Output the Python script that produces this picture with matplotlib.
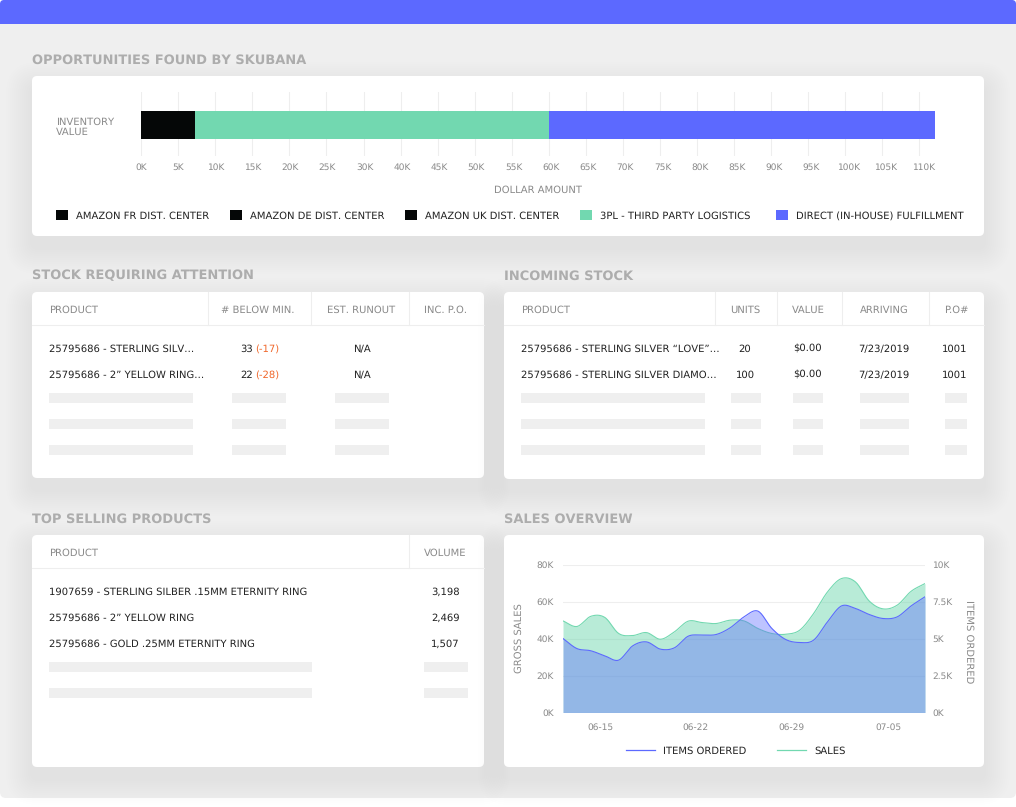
import numpy as np
import matplotlib
matplotlib.use('Agg')
import matplotlib.pyplot as plt
from matplotlib.patches import FancyBboxPatch, Rectangle
from matplotlib.transforms import ScaledTranslation

# inventory bar (dollars in K)
bar_names = ['AMAZON FR DIST. CENTER', 'AMAZON DE DIST. CENTER', 'AMAZON UK DIST. CENTER',
             '3PL - THIRD PARTY LOGISTICS', 'DIRECT (IN-HOUSE) FULFILLMENT']
bar_values = [2.4, 2.4, 2.5, 52.8, 52.0]
bar_colors = ['#050707', '#050707', '#050707', '#72d8b0', '#5c69ff']
# the axis in the original really skips 35K
tick_values = [0, 5, 10, 15, 20, 25, 30, 40, 45, 50, 55, 60, 65, 70, 75, 80, 85, 90, 95, 100, 105, 110]

# sales overview
sales = [49.5, 46.5, 52.0, 51.4, 42.7, 41.6, 43.2, 39.6, 43.6, 49.4, 48.6, 48.1, 49.9, 49.5,
         45.4, 42.7, 42.3, 44.5, 53.5, 65.2, 72.4, 70.6, 60.2, 56.0, 58.0, 65.5, 69.7]
items = [5.0, 4.32, 4.17, 3.83, 3.54, 4.5, 4.77, 4.28, 4.37, 5.16, 5.23, 5.27, 5.72, 6.46,
         6.85, 5.68, 4.93, 4.73, 4.89, 6.13, 7.2, 7.03, 6.62, 6.35, 6.46, 7.2, 7.82]
date_ticks = [2.66, 9.53, 16.4, 23.4]
date_labels = ['06-15', '06-22', '06-29', '07-05']

# tables
stock_headers = ['PRODUCT', '# BELOW MIN.', 'EST. RUNOUT', 'INC. P.O.']
stock_products = ['25795686 - STERLING SILV…', '25795686 - 2” YELLOW RING…']
stock_below = ['33', '22']
stock_diff = ['(-17)', '(-28)']
stock_runout = ['N/A', 'N/A']

incoming_headers = ['PRODUCT', 'UNITS', 'VALUE', 'ARRIVING', 'P.O#']
incoming_products = ['25795686 - STERLING SILVER “LOVE”…', '25795686 - STERLING SILVER DIAMO…']
incoming_units = ['20', '100']
incoming_value = ['$0.00', '$0.00']
incoming_arriving = ['7/23/2019', '7/23/2019']
incoming_po = ['1001', '1001']

top_headers = ['PRODUCT', 'VOLUME']
top_products = ['1907659 - STERLING SILBER .15MM ETERNITY RING', '25795686 - 2” YELLOW RING',
                '25795686 - GOLD .25MM ETERNITY RING']
top_volume = ['3,198', '2,469', '1,507']

W, H = 1016, 807
GREY = '#8a8a8a'
DARK = '#222222'
LINE = '#eeeeee'
PLACEHOLDER = '#efefef'
GREEN = '#72d8b0'
BLUE = '#5c69ff'
BODY = 6.95
plt.rcParams['font.family'] = ['DejaVu Sans']
plt.rcParams['text.hinting'] = 'none'
plt.rcParams['text.hinting_factor'] = 1

fig = plt.figure(figsize=(W / 100, H / 100), dpi=100, facecolor='white')
page = fig.add_axes([0, 0, 1, 1])
page.set_xlim(0, W)
page.set_ylim(H, 0)
page.axis('off')


def axes_px(left, top, right, bottom):
    ax = fig.add_axes([left / W, 1 - bottom / H, (right - left) / W, (bottom - top) / H])
    ax.patch.set_alpha(0)
    return ax


def rounded(x0, y0, x1, y1, r, **kw):
    page.add_patch(FancyBboxPatch((x0, y0), x1 - x0, y1 - y0,
                                  boxstyle='round,pad=0,rounding_size=%g' % r, linewidth=0, **kw))


def card(x0, y0, x1, y1):
    # soft shadow
    for grow in range(26, 0, -2):
        rounded(x0 - grow, y0 - grow + 12, x1 + grow, y1 + grow + 12, 6 + grow,
                facecolor='black', alpha=0.003)
    rounded(x0, y0, x1, y1, 5, facecolor='white')


def title(x, y, s):
    page.text(x, y + 4.6, s, color='#adadad', fontsize=9.0, fontweight='bold', va='baseline')


def label(x, y, s, color=DARK, size=BODY, ha='left'):
    page.text(x, y + 3.9, s, color=color, fontsize=size, ha=ha, va='baseline')


def header_row(x0, x1, top, line_y, dividers, xs, names, aligns):
    page.plot([x0, x1], [line_y, line_y], color=LINE, lw=0.8)
    for d in dividers:
        page.plot([d, d], [top, line_y], color=LINE, lw=0.8)
    for x, name, ha in zip(xs, names, aligns):
        label(x, top + 17, name, color=GREY, ha=ha)


def placeholders(rows, spans):
    for y in rows:
        for a, b in spans:
            page.add_patch(Rectangle((a, y), b - a, 10, facecolor=PLACEHOLDER, linewidth=0))


def smooth(y, n=16):
    # catmull-rom through the read values
    y = np.asarray(y, dtype=float)
    p = np.concatenate([[2 * y[0] - y[1]], y, [2 * y[-1] - y[-2]]])
    xs, ys = [], []
    for i in range(1, len(p) - 2):
        t = np.linspace(0, 1, n, endpoint=False)
        ys.append(0.5 * (2 * p[i] + (p[i + 1] - p[i - 1]) * t
                         + (2 * p[i - 1] - 5 * p[i] + 4 * p[i + 1] - p[i + 2]) * t ** 2
                         + (3 * p[i] - p[i - 1] - 3 * p[i + 1] + p[i + 2]) * t ** 3))
        xs.append(i - 1 + t)
    return np.append(np.concatenate(xs), len(y) - 1), np.append(np.concatenate(ys), y[-1])


# page background
rounded(0, 0, W, 798, 6, facecolor='#efefef')
rounded(0, 0, W, 24, 4, facecolor=BLUE)
page.add_patch(Rectangle((0, 8), W, 16, facecolor=BLUE, linewidth=0))

title(32, 59, 'OPPORTUNITIES FOUND BY SKUBANA')
title(32, 275, 'STOCK REQUIRING ATTENTION')
title(504, 275, 'INCOMING STOCK')
title(32, 518, 'TOP SELLING PRODUCTS')
title(504, 518, 'SALES OVERVIEW')

card(32, 76, 984, 236)
card(32, 292, 484, 478)
card(504, 292, 984, 479)
card(32, 535, 484, 767)
card(504, 535, 984, 767)

# inventory bar
axis_values = tick_values + [115]
axis_index = np.arange(len(axis_values))
bar_ax = axes_px(141.3, 92, 941.3, 156)
bar_ax.set_xscale('function', functions=(lambda v: np.interp(v, axis_values, axis_index),
                                         lambda i: np.interp(i, axis_index, axis_values)))
left = 0
for value, color in zip(bar_values, bar_colors):
    bar_ax.barh(0, value, left=left, height=28, color=color, linewidth=0, zorder=3)
    left += value
bar_ax.set_xlim(0, 113.0)
bar_ax.set_ylim(31, -33)
bar_ax.set_yticks([])
bar_ax.set_xticks(tick_values)
bar_ax.set_xticklabels(['%dK' % v for v in tick_values])
bar_ax.minorticks_off()
bar_ax.grid(True, axis='x', color=LINE, lw=0.8, zorder=0)
bar_ax.tick_params(axis='x', length=0, pad=5, labelsize=BODY - 0.3, labelcolor=GREY)
for i, lab in enumerate(bar_ax.get_xticklabels()):
    lab.set_transform(lab.get_transform() + ScaledTranslation(i * 0.2 / 100, 0, fig.dpi_scale_trans))
for side in bar_ax.spines.values():
    side.set_visible(False)
label(56, 121, 'INVENTORY', color=GREY)
label(56, 131, 'VALUE', color=GREY)
label(538, 189, 'DOLLAR AMOUNT', color=GREY, ha='center')

legend_x = [56, 230, 405, 580, 776]
for x, name, color in zip(legend_x, bar_names, bar_colors):
    page.add_patch(Rectangle((x, 210), 12, 10, facecolor=color, linewidth=0))
    label(x + 20, 215, name)

# stock requiring attention
header_row(32, 484, 292, 324.5, [207.5, 310.5, 408.5], [49, 258, 361, 446], stock_headers,
           ['left', 'center', 'center', 'center'])
for i, y in enumerate([348, 374]):
    label(49, y, stock_products[i])
    label(240, y, stock_below[i])
    label(255, y, stock_diff[i], color='#f0682c')
    label(361.5, y, stock_runout[i], ha='center')
placeholders([393, 419, 445], [(49, 193), (232, 286), (335, 389)])

# incoming stock
header_row(504, 984, 292, 324.5, [714.5, 776.5, 841.5, 928.5], [521, 745, 808, 884, 956],
           incoming_headers, ['left', 'center', 'center', 'center', 'center'])
for i, y in enumerate([348, 374]):
    label(521, y, incoming_products[i])
    label(745, y, incoming_units[i], ha='center')
    label(807, y, incoming_value[i], ha='center')
    label(884, y, incoming_arriving[i], ha='center')
    label(955, y, incoming_po[i], ha='center')
placeholders([393, 419, 445], [(521, 705), (731, 761), (793, 823), (860, 909), (945, 967)])

# top selling products
header_row(32, 484, 535, 567.5, [408.5], [49, 445], top_headers, ['left', 'center'])
for i, y in enumerate([591, 617, 643]):
    label(49, y, top_products[i])
    label(445.5, y, top_volume[i], ha='center')
placeholders([662, 688], [(49, 312), (424, 468)])

# sales overview
sales_ax = axes_px(563, 564.5, 925, 712.5)
items_ax = sales_ax.twinx()
sx, sy = smooth(sales)
ix, iy = smooth(items)
sales_ax.fill_between(sx, sy, color=GREEN, alpha=0.5, linewidth=0, zorder=2)
sales_ax.plot(sx, sy, color=GREEN, lw=0.8, zorder=3)
items_ax.fill_between(ix, iy, color=BLUE, alpha=0.4, linewidth=0, zorder=2)
items_ax.plot(ix, iy, color=BLUE, lw=0.8, zorder=3)
sales_ax.set_xlim(0, len(sales) - 1)
sales_ax.set_ylim(0, 80)
items_ax.set_ylim(0, 10)
sales_ax.set_yticks([0, 20, 40, 60, 80])
sales_ax.set_yticklabels(['0K', '20K', '40K', '60K', '80K'])
items_ax.set_yticks([0, 2.5, 5, 7.5, 10])
items_ax.set_yticklabels(['0K', '2.5K', '5K', '7.5K', '10K'])
sales_ax.set_xticks(date_ticks)
sales_ax.set_xticklabels(date_labels)
sales_ax.grid(True, axis='y', color=LINE, lw=0.8, zorder=0)
sales_ax.set_axisbelow(True)
sales_ax.tick_params(axis='y', length=0, pad=6.5, labelsize=BODY - 0.3, labelcolor=GREY)
items_ax.tick_params(axis='y', length=0, pad=5, labelsize=BODY - 0.3, labelcolor=GREY)
sales_ax.tick_params(axis='x', length=0, pad=7.5, labelsize=BODY - 0.3, labelcolor=GREY)
for ax in (sales_ax, items_ax):
    for side in ax.spines.values():
        side.set_visible(False)
page.text(519.5, 638, 'GROSS SALES', color=GREY, fontsize=BODY, rotation=90, ha='center', va='center')
page.text(969, 641.5, 'ITEMS ORDERED', color=GREY, fontsize=BODY, rotation=270, ha='center', va='center')
page.plot([626, 655], [750, 750], color=BLUE, lw=0.9)
label(663, 750, 'ITEMS ORDERED')
page.plot([777, 806], [750, 750], color=GREEN, lw=0.9)
label(814, 750, 'SALES')

fig.savefig('out.png', dpi=100)
